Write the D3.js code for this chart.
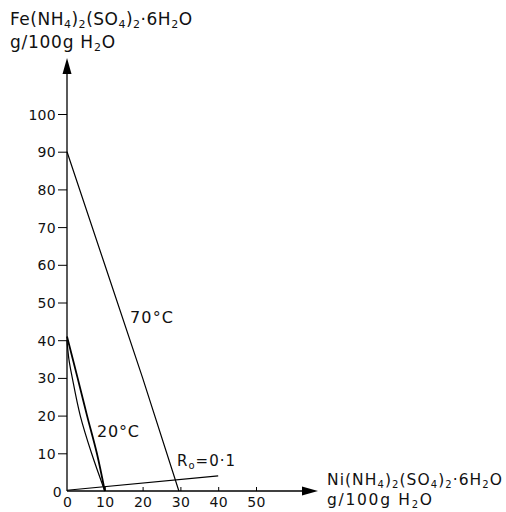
<!DOCTYPE html>
<html>
<head>
<meta charset="utf-8">
<script src="https://cdn.jsdelivr.net/npm/d3@7"></script>
<style>
  body { margin: 0; background: #fff; }
  svg { display: block; }
  text { font-family: "DejaVu Sans", Verdana, sans-serif; fill: #111; }
</style>
</head>
<body>
<svg class="phase" width="506" height="512"></svg>
<script>
// values (g / 100 g H2O)
const xTicks = [0, 10, 20, 30, 40, 50];
const yTicks = [0, 10, 20, 30, 40, 50, 60, 70, 80, 90, 100];

// [Ni salt, Fe salt]
const iso70 = [[0, 90], [10, 60], [20, 30], [29.6, 0]];
const iso20outer = [[0, 41], [2.8, 30], [5.3, 20], [7.9, 10], [10, 0]];
const iso20inner = [[0, 40], [0.5, 35], [1.4, 30], [3.5, 20], [6.5, 10], [10, 0]];
const ratioLine = [[0, 0.2], [40, 4]];

const svg = d3.select("svg.phase");

const x = d3.scaleLinear().domain([0, 50]).range([67, 256]);
const y = d3.scaleLinear().domain([0, 100]).range([491, 114]);

// y axis
const yAxis = svg.append("g")
    .attr("transform", "translate(" + x(0) + ",0)")
    .call(d3.axisLeft(y).tickValues(yTicks).tickSize(9).tickPadding(2).tickFormat(d3.format("d")));
yAxis.select(".domain").remove();
yAxis.selectAll("text").style("font-size", "14px").style("letter-spacing", "0.3px").attr("dy", "0.36em");
yAxis.selectAll(".tick").filter(d => d === 0).select("line").remove();
yAxis.selectAll(".tick").filter(d => d === 0).select("text").attr("x", -5);

// x axis, small ticks pointing up
const xAxis = svg.append("g")
    .attr("transform", "translate(0," + y(0) + ")")
    .call(d3.axisBottom(x).tickValues(xTicks).tickSize(-4).tickPadding(6).tickFormat(d3.format("d")));
xAxis.select(".domain").remove();
xAxis.selectAll("text").style("font-size", "14px").style("letter-spacing", "0.3px");
xAxis.selectAll(".tick").filter(d => d === 0).select("line").remove();

// axis lines with arrow heads
svg.append("line")
    .attr("x1", x(0)).attr("y1", y(0))
    .attr("x2", x(0)).attr("y2", 70)
    .attr("stroke", "black").attr("stroke-width", 1.3);
svg.append("path")
    .attr("d", "M" + x(0) + ",58 L" + (x(0) - 4.5) + ",74 L" + (x(0) + 4.5) + ",74 Z")
    .attr("fill", "black");

svg.append("line")
    .attr("x1", x(0)).attr("y1", y(0))
    .attr("x2", 305).attr("y2", y(0))
    .attr("stroke", "black").attr("stroke-width", 1.3);
svg.append("path")
    .attr("d", "M318," + y(0) + " L302," + (y(0) - 4.5) + " L302," + (y(0) + 4.5) + " Z")
    .attr("fill", "black");

// curves
const straight = d3.line().x(d => x(d[0])).y(d => y(d[1]));
const smooth = d3.line().curve(d3.curveCatmullRom).x(d => x(d[0])).y(d => y(d[1]));

svg.append("path").attr("d", straight(iso70))
    .attr("fill", "none").attr("stroke", "black").attr("stroke-width", 1.2);
svg.append("path").attr("d", smooth(iso20outer))
    .attr("fill", "none").attr("stroke", "black").attr("stroke-width", 1.8);
svg.append("path").attr("d", smooth(iso20inner))
    .attr("fill", "none").attr("stroke", "black").attr("stroke-width", 1.2);
svg.append("path").attr("d", straight(ratioLine))
    .attr("fill", "none").attr("stroke", "black").attr("stroke-width", 1.1);

// stretch a text to a given width by spacing its letters
function fitWidth(t, width) {
    const w = t.node().getBBox().width;
    const n = t.text().length;
    if (n > 1) t.style("letter-spacing", ((width - w) / (n - 1)) + "px");
}

// labels
fitWidth(svg.append("text").attr("x", 130).attr("y", 323).style("font-size", "16px").text("70°C"), 43);
fitWidth(svg.append("text").attr("x", 97).attr("y", 437).style("font-size", "16px").text("20°C"), 42);

const r0 = svg.append("text").attr("x", 177).attr("y", 466).style("font-size", "15px");
r0.append("tspan").text("R");
r0.append("tspan").attr("dy", 3).style("font-size", "10px").text("o");
r0.append("tspan").attr("dy", -3).text("=0·1");
fitWidth(r0, 58);

// chemical formula with subscripts
function formula(sel, parts, size, shift) {
    let shifted = false;
    parts.forEach(p => {
        const ts = sel.append("tspan").text(p.t);
        if (p.sub) {
            ts.attr("dy", shift).style("font-size", Math.round(size * 0.66) + "px");
            shifted = true;
        } else if (shifted) {
            ts.attr("dy", -shift);
            shifted = false;
        }
    });
    return sel;
}

const feParts = [{t: "Fe(NH"}, {t: "4", sub: 1}, {t: ")"}, {t: "2", sub: 1}, {t: "(SO"}, {t: "4", sub: 1},
    {t: ")"}, {t: "2", sub: 1}, {t: "·6H"}, {t: "2", sub: 1}, {t: "O"}];
const niParts = [{t: "Ni(NH"}, {t: "4", sub: 1}, {t: ")"}, {t: "2", sub: 1}, {t: "(SO"}, {t: "4", sub: 1},
    {t: ")"}, {t: "2", sub: 1}, {t: "·6H"}, {t: "2", sub: 1}, {t: "O"}];
const unitParts = [{t: "g/100g H"}, {t: "2", sub: 1}, {t: "O"}];

fitWidth(formula(svg.append("text").attr("x", 10).attr("y", 25).style("font-size", "17px"), feParts, 17, 3), 182);
fitWidth(formula(svg.append("text").attr("x", 10).attr("y", 48).style("font-size", "17px"), unitParts, 17, 3), 105);
fitWidth(formula(svg.append("text").attr("x", 327).attr("y", 485).style("font-size", "15.5px"), niParts, 15.5, 2.5), 175);
fitWidth(formula(svg.append("text").attr("x", 327).attr("y", 505).style("font-size", "15.5px"), unitParts, 15.5, 2.5), 105);
</script>
</body>
</html>
